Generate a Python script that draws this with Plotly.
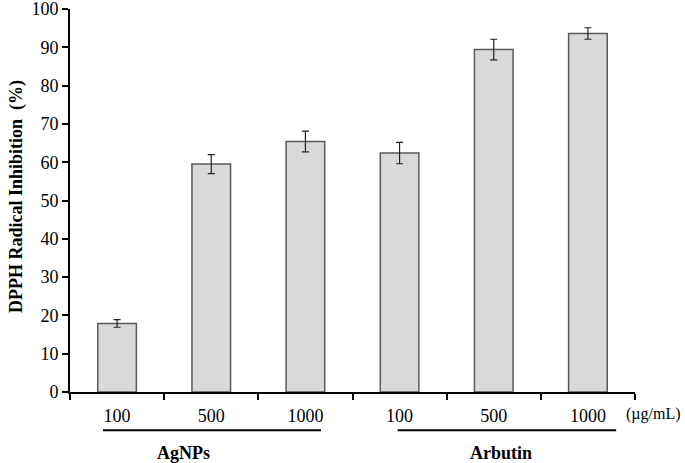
import plotly.graph_objects as go

categories = ["AgNPs 100", "AgNPs 500", "AgNPs 1000", "Arbutin 100", "Arbutin 500", "Arbutin 1000"]
dose_labels = ["100", "500", "1000", "100", "500", "1000"]
inhibition = [17.9, 59.5, 65.4, 62.4, 89.4, 93.6]
errors = [1.0, 2.5, 2.7, 2.8, 2.7, 1.5]
groups = ["AgNPs", "Arbutin"]
unit_label = "(\u00b5g/mL)"
y_title = "DPPH Radical Inhibition&nbsp; (%)"
y_ticks = [0, 10, 20, 30, 40, 50, 60, 70, 80, 90, 100]

FONT = "Liberation Serif, Times New Roman, serif"

fig = go.Figure()
fig.add_trace(go.Bar(
    x=categories, y=inhibition, width=0.41,
    marker=dict(color="#d9d9d9", line=dict(color="#595959", width=1.5)),
    error_y=dict(type="data", array=errors, visible=True, color="#222222", thickness=1.2, width=3.5),
))

fig.update_layout(
    width=685, height=463,
    margin=dict(l=70, r=50, t=9, b=71),
    paper_bgcolor="white", plot_bgcolor="white",
    showlegend=False,
    font=dict(family=FONT, color="black"),
)
fig.update_xaxes(
    type="category", range=[-0.5, 5.5], automargin=False,
    tickmode="array", tickvals=categories, ticktext=dose_labels,
    tickson="boundaries", ticks="outside", ticklen=6, tickwidth=2, tickcolor="black",
    showline=True, linecolor="black", linewidth=2,
    tickfont=dict(size=18, family=FONT, color="black"),
    ticklabelstandoff=6, ticklabeloverflow="allow",
    showgrid=False, zeroline=False,
)
fig.update_yaxes(
    range=[0, 100], tickvals=y_ticks, automargin=False,
    ticks="outside", ticklen=6, tickwidth=2, tickcolor="black",
    showline=True, linecolor="black", linewidth=2,
    tickfont=dict(size=18, family=FONT, color="black"),
    ticklabeloverflow="allow",
    showgrid=False, zeroline=False,
)

fig.add_annotation(xref="paper", yref="paper", x=-0.095, y=0.51, text="<b>%s</b>" % y_title,
                   textangle=-90, showarrow=False, font=dict(size=18, family=FONT, color="black"),
                   xanchor="center", yanchor="middle")

# group underline bars and labels
group_spans = [(-0.15, 2.165), (2.98, 5.30)]
group_centers = [0.70, 4.08]
for (x0, x1), cx, name in zip(group_spans, group_centers, groups):
    fig.add_shape(type="line", xref="x", yref="paper", x0=x0, x1=x1, y0=-0.0997, y1=-0.0997,
                  line=dict(color="black", width=2))
    fig.add_annotation(xref="x", yref="paper", x=cx, y=-0.158, text="<b>%s</b>" % name,
                       showarrow=False, font=dict(size=18, family=FONT, color="black"),
                       xanchor="center", yanchor="middle")

fig.add_annotation(xref="paper", yref="paper", x=1.033, y=-0.0587, text=unit_label, showarrow=False,
                   font=dict(size=16, family=FONT, color="black"), xanchor="center", yanchor="middle")

fig.write_html("out.html", config={"displayModeBar": False},
               post_script="document.body.style.margin='0';")
